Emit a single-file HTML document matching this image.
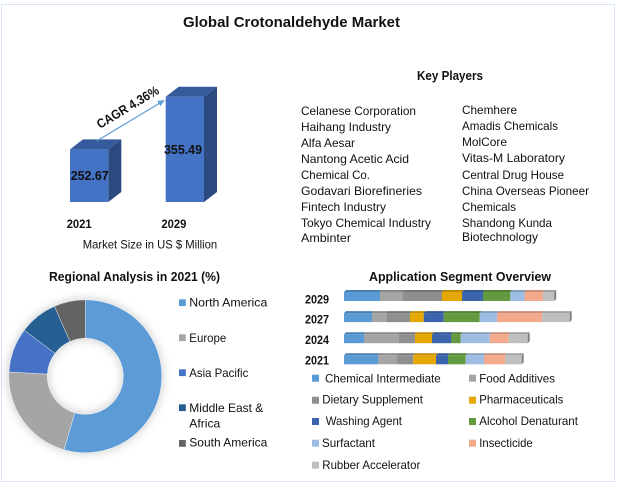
<!DOCTYPE html>
<html lang="en">
<head>
<meta charset="utf-8">
<title>Global Crotonaldehyde Market</title>
<style>
html,body{margin:0;padding:0;background:#fff;width:618px;height:484px;overflow:hidden}
svg{display:block}
text{font-family:"Liberation Sans",sans-serif;fill:#111;font-size:12px}
.b{font-weight:bold}
.t{font-size:13px}
</style>
</head>
<body>
<svg id="root" xmlns="http://www.w3.org/2000/svg" width="618" height="484" viewBox="0 0 618 484">
<defs>
<filter id="soft" x="-30%" y="-30%" width="160%" height="160%"><feDropShadow dx="0" dy="0" stdDeviation="5" flood-color="#000" flood-opacity="0.22"/></filter>
<marker id="arrowhead" markerWidth="8" markerHeight="8" refX="6" refY="3" orient="auto" markerUnits="userSpaceOnUse"><path d="M0,0 L7,3 L0,6 Z" fill="#5b9bd5"/></marker>
</defs>
<rect x="1.5" y="4.5" width="613" height="477" fill="#fff" stroke="#d6e4f3" stroke-width="1"/>
<text class="b" x="183" y="27" style="font-size:15px" textLength="217" lengthAdjust="spacingAndGlyphs">Global Crotonaldehyde Market</text>

<g id="marketChart"></g>
<line x1="96.7" y1="141" x2="164" y2="100.5" stroke="#5b9bd5" stroke-width="1.2" marker-end="url(#arrowhead)"/>
<text class="b t" transform="translate(100,129) rotate(-31)" textLength="70" lengthAdjust="spacingAndGlyphs">CAGR 4.36%</text>
<text x="82.7" y="248.5" textLength="134.5" lengthAdjust="spacingAndGlyphs">Market Size in US $ Million</text>

<text class="b t" x="417" y="80" textLength="66" lengthAdjust="spacingAndGlyphs">Key Players</text>
<g>
<text x="301" y="115" textLength="115" lengthAdjust="spacingAndGlyphs">Celanese Corporation</text>
<text x="301" y="131" textLength="90" lengthAdjust="spacingAndGlyphs">Haihang Industry</text>
<text x="301" y="147" textLength="54" lengthAdjust="spacingAndGlyphs">Alfa Aesar</text>
<text x="301" y="163" textLength="108" lengthAdjust="spacingAndGlyphs">Nantong Acetic Acid</text>
<text x="301" y="179" textLength="69" lengthAdjust="spacingAndGlyphs">Chemical Co.</text>
<text x="301" y="195" textLength="121" lengthAdjust="spacingAndGlyphs">Godavari Biorefineries</text>
<text x="301" y="211" textLength="85" lengthAdjust="spacingAndGlyphs">Fintech Industry</text>
<text x="301" y="227" textLength="130" lengthAdjust="spacingAndGlyphs">Tokyo Chemical Industry</text>
<text x="301" y="242" textLength="50" lengthAdjust="spacingAndGlyphs">Ambinter</text>
</g>
<g>
<text x="462" y="114" textLength="55" lengthAdjust="spacingAndGlyphs">Chemhere</text>
<text x="462" y="130" textLength="96" lengthAdjust="spacingAndGlyphs">Amadis Chemicals</text>
<text x="462" y="146" textLength="45" lengthAdjust="spacingAndGlyphs">MolCore</text>
<text x="462" y="162" textLength="103" lengthAdjust="spacingAndGlyphs">Vitas-M  Laboratory</text>
<text x="462" y="179" textLength="102" lengthAdjust="spacingAndGlyphs">Central Drug House</text>
<text x="462" y="195" textLength="127" lengthAdjust="spacingAndGlyphs">China Overseas Pioneer</text>
<text x="462" y="211" textLength="54" lengthAdjust="spacingAndGlyphs">Chemicals</text>
<text x="462" y="227" textLength="90" lengthAdjust="spacingAndGlyphs">Shandong Kunda</text>
<text x="462" y="241" textLength="76" lengthAdjust="spacingAndGlyphs">Biotechnology</text>
</g>

<text class="b t" x="49" y="281" textLength="171" lengthAdjust="spacingAndGlyphs">Regional Analysis in 2021 (%)</text>
<g id="donut" filter="url(#soft)"></g>
<g>
<rect x="179" y="299.3" width="6.8" height="6.8" fill="#5b9bd5"/>
<text x="189.3" y="306.7" textLength="78" lengthAdjust="spacingAndGlyphs">North America</text>
<rect x="179" y="334.3" width="6.8" height="6.8" fill="#a5a5a5"/>
<text x="189.3" y="342" textLength="37" lengthAdjust="spacingAndGlyphs">Europe</text>
<rect x="179" y="369.3" width="6.8" height="6.8" fill="#4472c4"/>
<text x="189.3" y="377" textLength="59" lengthAdjust="spacingAndGlyphs">Asia Pacific</text>
<rect x="179" y="404.3" width="6.8" height="6.8" fill="#255e91"/>
<text x="189.3" y="412" textLength="74" lengthAdjust="spacingAndGlyphs">Middle East &amp;</text>
<text x="189.3" y="427.7" textLength="31" lengthAdjust="spacingAndGlyphs">Africa</text>
<rect x="179" y="440" width="6.8" height="6.8" fill="#636363"/>
<text x="189.3" y="446.7" textLength="78" lengthAdjust="spacingAndGlyphs">South America</text>
</g>

<text class="b t" x="369" y="281" textLength="182" lengthAdjust="spacingAndGlyphs">Application Segment Overview</text>
<g id="stack"></g>
<g>
<rect x="312" y="374.7" width="7" height="7" fill="#5b9bd5"/>
<text x="325" y="382.3" textLength="115.7" lengthAdjust="spacingAndGlyphs">Chemical Intermediate</text>
<rect x="469" y="374.7" width="7" height="7" fill="#a5a5a5"/>
<text x="479.3" y="382.3" textLength="75.7" lengthAdjust="spacingAndGlyphs">Food Additives</text>
<rect x="312" y="396.7" width="7" height="7" fill="#8f8f8f"/>
<text x="322.3" y="403.7" textLength="100.7" lengthAdjust="spacingAndGlyphs">Dietary Supplement</text>
<rect x="469" y="396.7" width="7" height="7" fill="#e4a800"/>
<text x="479.3" y="403.7" textLength="84" lengthAdjust="spacingAndGlyphs">Pharmaceuticals</text>
<rect x="312" y="418" width="7" height="7" fill="#3b64ad"/>
<text x="325.7" y="425" textLength="76.3" lengthAdjust="spacingAndGlyphs">Washing Agent</text>
<rect x="469" y="418" width="7" height="7" fill="#639a3f"/>
<text x="479.3" y="425" textLength="98.7" lengthAdjust="spacingAndGlyphs">Alcohol Denaturant</text>
<rect x="312" y="439.7" width="7" height="7" fill="#9dbde4"/>
<text x="322" y="447" textLength="53" lengthAdjust="spacingAndGlyphs">Surfactant</text>
<rect x="469" y="439.7" width="7" height="7" fill="#f2a98c"/>
<text x="479.3" y="447" textLength="53.4" lengthAdjust="spacingAndGlyphs">Insecticide</text>
<rect x="312" y="461.7" width="7" height="7" fill="#bfbfbf"/>
<text x="322.3" y="469" textLength="98" lengthAdjust="spacingAndGlyphs">Rubber Accelerator</text>
</g>
</svg>
<script>
var marketYears = ['2021', '2029'];
var marketValues = [252.67, 355.49];
var regionNames = ['north-america', 'europe', 'asia-pacific', 'middle-east-africa', 'south-america'];
var regionShares = [54.5, 21.4, 9.4, 8.1, 6.6];
var regionColors = ['#5b9bd5', '#a5a5a5', '#4472c4', '#255e91', '#636363'];
var stackYears = ['2029', '2027', '2024', '2021'];
var chemicalIntermediate = [36, 28, 20, 34];
var foodAdditives = [22.3, 14.3, 35, 19];
var dietarySupplement = [39.7, 23.7, 16, 16.3];
var pharmaceuticals = [20, 13.7, 17, 22.7];
var washingAgent = [21, 20, 19, 12];
var alcoholDenaturant = [27.3, 36, 9.7, 17.7];
var surfactant = [14.3, 17.3, 29, 18.3];
var insecticide = [18.3, 45, 19, 21];
var rubberAccelerator = [11.3, 27.7, 19, 16.7];
var stackSeries = [chemicalIntermediate, foodAdditives, dietarySupplement, pharmaceuticals, washingAgent, alcoholDenaturant, surfactant, insecticide, rubberAccelerator];
var stackNames = ['chemical-intermediate', 'food-additives', 'dietary-supplement', 'pharmaceuticals', 'washing-agent', 'alcohol-denaturant', 'surfactant', 'insecticide', 'rubber-accelerator'];
var stackColors = ['#5b9bd5', '#a5a5a5', '#8f8f8f', '#e4a800', '#3b64ad', '#639a3f', '#9dbde4', '#f2a98c', '#bfbfbf'];
var stackTops = ['#4a80b2', '#8a8a8a', '#777777', '#be8c00', '#315390', '#528034', '#839dbe', '#c98c74', '#9f9f9f'];

var NS = 'http://www.w3.org/2000/svg';
function make(parent, tag, name) {
  var el = document.createElementNS(NS, tag);
  
  
  parent.appendChild(el);
  return el;
}

/* market 3D columns */
var marketGroup = document.getElementById('marketChart');
var marketBase = 202;
function marketX(i) { return 70 + i * 95.7; }
function marketH(v) { return (v - 149.7) * 0.5116; }
marketValues.forEach(function (v, i) {
  var x = marketX(i), w = 38.3, h = marketH(v), top = marketBase - h, dx = 13, dy = 10;
  var side = make(marketGroup, 'polygon', 'bar-side-' + marketYears[i]);
  side.setAttribute('points', [x + w, top, x + w + dx, top - dy, x + w + dx, marketBase - dy, x + w, marketBase].join(' '));
  side.setAttribute('fill', '#2b4a80');
  var cap = make(marketGroup, 'polygon', 'bar-top-' + marketYears[i]);
  cap.setAttribute('points', [x, top, x + dx, top - dy, x + w + dx, top - dy, x + w, top].join(' '));
  cap.setAttribute('fill', '#365a9c');
  var front = make(marketGroup, 'rect', 'bar-' + marketYears[i]);
  front.setAttribute('x', x);
  front.setAttribute('y', top);
  front.setAttribute('width', w);
  front.setAttribute('height', h);
  front.setAttribute('fill', '#4472c4');
  var val = make(marketGroup, 'text', 'value-label-' + marketYears[i]);
  val.setAttribute('class', 'b t');
  val.setAttribute('x', x + (i ? -1.7 : 0.7));
  val.setAttribute('y', top + h / 2 + 4.5);
  val.setAttribute('textLength', '38');
  val.setAttribute('lengthAdjust', 'spacingAndGlyphs');
  val.textContent = v.toFixed(2);
  var yr = make(marketGroup, 'text', 'x-axis-label-' + marketYears[i]);
  yr.setAttribute('class', 'b');
  yr.setAttribute('x', x - 3.3 + (i ? -1 : 0));
  yr.setAttribute('y', 228);
  yr.setAttribute('textLength', '25');
  yr.setAttribute('lengthAdjust', 'spacingAndGlyphs');
  yr.textContent = marketYears[i];
});

/* donut */
var donutGroup = document.getElementById('donut');
var cx = 85.3, cy = 376.3, rO = 76.5, rI = 38;
var shareTotal = regionShares.reduce(function (a, b) { return a + b; }, 0);
function angleOf(s) { return s / shareTotal * 2 * Math.PI; }
function polar(r, a) { return (cx + r * Math.sin(a)).toFixed(2) + ' ' + (cy - r * Math.cos(a)).toFixed(2); }
var runningShare = 0;
regionShares.forEach(function (s, i) {
  var a0 = angleOf(runningShare), a1 = angleOf(runningShare + s);
  runningShare += s;
  var big = a1 - a0 > Math.PI ? 1 : 0;
  var slice = make(donutGroup, 'path', 'slice-' + regionNames[i]);
  slice.setAttribute('d', 'M' + polar(rO, a0) + ' A' + rO + ' ' + rO + ' 0 ' + big + ' 1 ' + polar(rO, a1) + ' L' + polar(rI, a1) + ' A' + rI + ' ' + rI + ' 0 ' + big + ' 0 ' + polar(rI, a0) + ' Z');
  slice.setAttribute('fill', regionColors[i]);
  slice.setAttribute('stroke', '#fff');
  slice.setAttribute('stroke-width', '0.4');
});

/* stacked bars */
var stackGroup = document.getElementById('stack');
function stackRow(i) { return 292 + i * 21.1; }
function stackLabelY(i) { return 303.3 + i * 20.4; }
function stackX(v) { return 344 + v; }
stackYears.forEach(function (yr, i) {
  var y = stackRow(i), h = 9, d = 2, acc = 0;
  var lab = make(stackGroup, 'text', 'y-axis-label-' + yr);
  lab.setAttribute('class', 'b');
  lab.setAttribute('x', 305);
  lab.setAttribute('y', stackLabelY(i));
  lab.setAttribute('textLength', '24');
  lab.setAttribute('lengthAdjust', 'spacingAndGlyphs');
  lab.textContent = yr;
  stackSeries.forEach(function (series, j) {
    var x0 = stackX(acc), x1 = stackX(acc + series[i]);
    acc += series[i];
    var top = make(stackGroup, 'polygon', 'bar-top-' + yr + '-' + stackNames[j]);
    top.setAttribute('points', [x0, y, x0 + d, y - d, x1 + d, y - d, x1, y].join(' '));
    top.setAttribute('fill', stackTops[j]);
    var seg = make(stackGroup, 'rect', 'bar-' + yr + '-' + stackNames[j]);
    seg.setAttribute('x', x0);
    seg.setAttribute('y', y);
    seg.setAttribute('width', series[i]);
    seg.setAttribute('height', h);
    seg.setAttribute('fill', stackColors[j]);
  });
  var end = stackX(acc);
  var cap = make(stackGroup, 'polygon', 'bar-end-' + yr);
  cap.setAttribute('points', [end, y, end + d, y - d, end + d, y + h - d, end, y + h].join(' '));
  cap.setAttribute('fill', '#7f7f7f');
});
</script>
</body>
</html>
